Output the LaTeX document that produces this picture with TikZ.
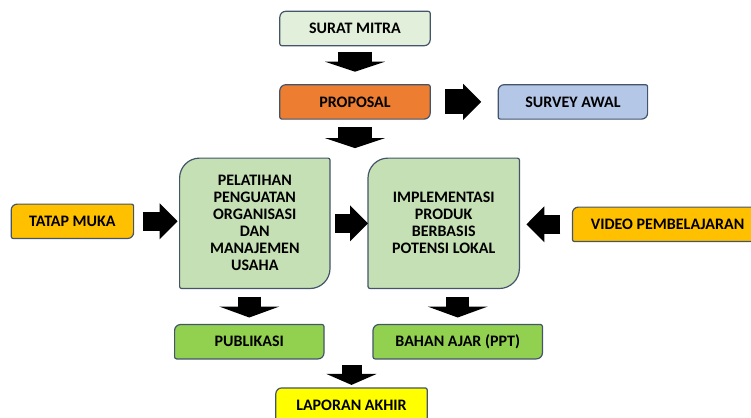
\documentclass[tikz,border=0pt]{standalone}
\usepackage{fontspec}
\setmainfont{Carlito}
\usepackage{tikz}
\usetikzlibrary{arrows.meta,positioning,calc,backgrounds}
\definecolor{boxline}{HTML}{44546A}
\definecolor{suratfill}{HTML}{E2EFDA}
\definecolor{propfill}{HTML}{ED7D31}
\definecolor{surveyfill}{HTML}{B4C7E7}
\definecolor{kegfill}{HTML}{C5E0B4}
\definecolor{mediafill}{HTML}{FFC000}
\definecolor{luarfill}{HTML}{92D050}
\definecolor{lapfill}{HTML}{FFFF00}
\tikzset{
  kotak/.style={rectangle, align=center, font=\fontsize{16}{17}\selectfont\bfseries, minimum height=34pt, inner sep=0pt},
  kotakbesar/.style={kotak, minimum width=150pt, minimum height=130pt},
  panahbesar/.style={-{Triangle[width=60pt, length=10pt]}, line width=34pt},
  panahkecil/.style={-{Triangle[width=60pt, length=11pt]}, line width=23pt},
  panahsamping/.style={-{Triangle[width=35pt, length=18pt]}, line width=19pt},
  bingkai/.style={draw=boxline, line width=1.2pt}
}

\begin{document}
\begin{tikzpicture}[x=1pt, y=1pt]
\useasboundingbox (0,0) rectangle (751,-417);
\node[kotak, minimum width=150pt] (surat) at (355,-28.5) {SURAT MITRA};
\node[kotak, minimum width=150pt, below=39pt of surat] (proposal) {PROPOSAL};
\node[kotak, minimum width=149pt, right=68pt of proposal] (survey) {SURVEY AWAL};
\node[kotakbesar, below=39pt of proposal.south west, xshift=-25pt] (pelatihan) {PELATIHAN\\PENGUATAN\\ORGANISASI\\DAN\\MANAJEMEN\\USAHA};
\node[kotakbesar, minimum width=151pt, right=38pt of pelatihan] (implementasi) {IMPLEMENTASI\\PRODUK\\BERBASIS\\POTENSI LOKAL};
\node[kotak, minimum width=122pt, left=46pt of pelatihan, yshift=2pt] (tatap) {TATAP MUKA};
\node[kotak, minimum width=190pt, right=53pt of implementasi, yshift=-1pt] (video) {VIDEO PEMBELAJARAN};
\node[kotak, minimum width=149pt, below=36pt of pelatihan, xshift=-5.5pt] (publikasi) {PUBLIKASI};
\node[kotak, minimum width=169pt, below=36pt of implementasi, xshift=14pt] (bahan) {BAHAN AJAR (PPT)};
\coordinate (tengah) at ($(publikasi.south east)!0.5!(bahan.south west)$);
\node[kotak, minimum width=151pt, minimum height=35pt, below=29pt of tengah, xshift=3pt] (laporan) {LAPORAN AKHIR};

% bingkai dengan sudut diagonal membulat
\begin{scope}[on background layer]
\foreach \n/\c/\r in {surat/suratfill/6, proposal/propfill/6, survey/surveyfill/6,
    tatap/mediafill/6, video/mediafill/6, publikasi/luarfill/6, bahan/luarfill/6,
    laporan/lapfill/6, pelatihan/kegfill/20, implementasi/kegfill/20}
  \draw[bingkai, fill=\c] ([yshift=-\r pt]\n.north west) arc[start angle=180, end angle=90, radius=\r pt]
    -- ([xshift=-2pt]\n.north east) arc[start angle=90, end angle=0, radius=2pt]
    -- ([yshift=\r pt]\n.south east) arc[start angle=0, end angle=-90, radius=\r pt]
    -- ([xshift=2pt]\n.south west) arc[start angle=270, end angle=180, radius=2pt] -- cycle;
\end{scope}

% panah
\draw[panahbesar, shorten <=6pt, shorten >=13pt] (surat) -- (proposal);
\draw[panahbesar, shorten <=8pt, shorten >=10pt] (proposal.south) -- (proposal.south |- pelatihan.north);
\draw[panahsamping, line width=25pt, shorten <=15pt, shorten >=17pt] (proposal) -- (survey);
\draw[panahsamping, shorten <=9pt, shorten >=2pt] (tatap.east) -- (tatap.east -| pelatihan.west);
\draw[panahsamping, shorten <=5pt, shorten >=0pt] (pelatihan.east) -- (implementasi.west);
\draw[panahsamping, shorten <=12pt, shorten >=7pt] (video.west) -- (video.west -| implementasi.east);
\draw[panahkecil, shorten <=8pt, shorten >=7pt] (publikasi.north |- pelatihan.south) -- (publikasi.north);
\draw[panahkecil, shorten <=8pt, shorten >=7pt] (bahan.north |- implementasi.south) -- (bahan.north);
\draw[-{Triangle[width=50pt, length=11pt]}, line width=20pt, shorten <=6pt, shorten >=3pt] (tengah -| laporan.north) -- (laporan.north);
\end{tikzpicture}
\end{document}
